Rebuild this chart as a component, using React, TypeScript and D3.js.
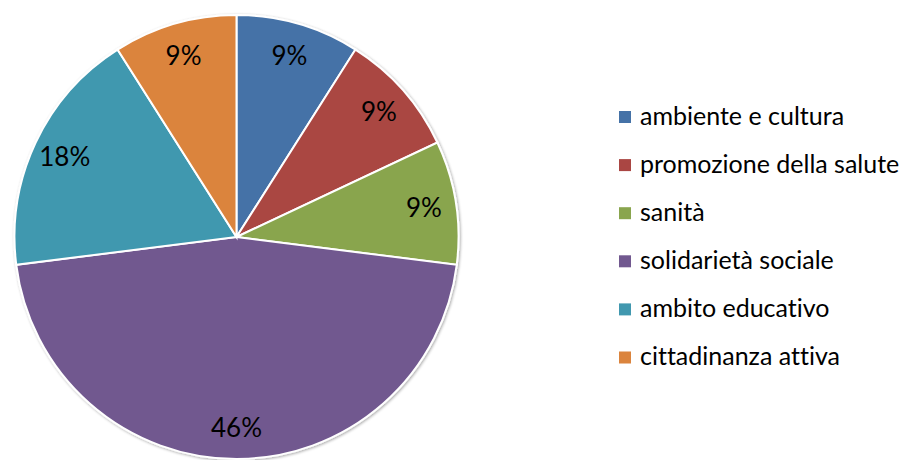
import React from "react";
import * as d3 from "d3";

const categories = [
  "ambiente e cultura",
  "promozione della salute",
  "sanità",
  "solidarietà sociale",
  "ambito educativo",
  "cittadinanza attiva",
];
const values = [9, 9, 9, 46, 18, 9];
const colors = ["#4572A7", "#AA4643", "#89A54E", "#71588F", "#4198AF", "#DB843D"];

const W = 902;
const H = 460;
const FONT = "Lato, 'Liberation Sans', sans-serif";

export default function App() {
  const cx = 236.5;
  const cy = 237;
  const r = 222;
  const data = categories.map((c, i) => ({ c, v: values[i], col: colors[i] }));
  const pie = d3.pie<any>().value((d) => d.v).sort(null);
  const arcs = pie(data);
  const arc = d3.arc<any>().innerRadius(0).outerRadius(r);
  const labelArc = d3.arc<any>().innerRadius(r * 0.855).outerRadius(r * 0.855);
  const total = d3.sum(values);

  const legendX = 619;
  const legendY0 = 117;
  const legendStep = 48.1;

  return (
    <svg
      width={W}
      height={H}
      style={{ position: "absolute", left: 0, top: 0, background: "#fff", fontVariantLigatures: "none" }}
    >
      <defs>
        <filter id="sh" x="-10%" y="-10%" width="120%" height="120%">
          <feGaussianBlur in="SourceAlpha" stdDeviation="1.5" />
          <feOffset dx="1" dy="1" result="b" />
          <feComponentTransfer>
            <feFuncA type="linear" slope="0.35" />
          </feComponentTransfer>
          <feMerge>
            <feMergeNode />
            <feMergeNode in="SourceGraphic" />
          </feMerge>
        </filter>
      </defs>
      <g transform={`translate(${cx},${cy})`}>
        <g filter="url(#sh)">
          {arcs.map((a, i) => (
            <path key={i} d={arc(a) as string} fill={a.data.col} stroke="#fff" strokeWidth={2} />
          ))}
        </g>
        {arcs.map((a, i) => {
          const [x, y] = labelArc.centroid(a);
          return (
            <text
              key={i}
              x={x}
              y={y}
              textAnchor="middle"
              dominantBaseline="central"
              fontFamily={FONT}
              fontSize={26}
              fill="#000"
            >
              {Math.round((a.data.v / total) * 100)}%
            </text>
          );
        })}
      </g>
      {data.map((d, i) => {
        const y = legendY0 + i * legendStep;
        return (
          <g key={i}>
            <rect x={legendX} y={y - 6} width={12} height={12} fill={d.col} />
            <text
              x={legendX + 21}
              y={y + 7.5}
              fontFamily={FONT}
              fontSize={25}
              fill="#000"
              style={{ fontVariantLigatures: "none" }}
            >
              {d.c}
            </text>
          </g>
        );
      })}
    </svg>
  );
}
